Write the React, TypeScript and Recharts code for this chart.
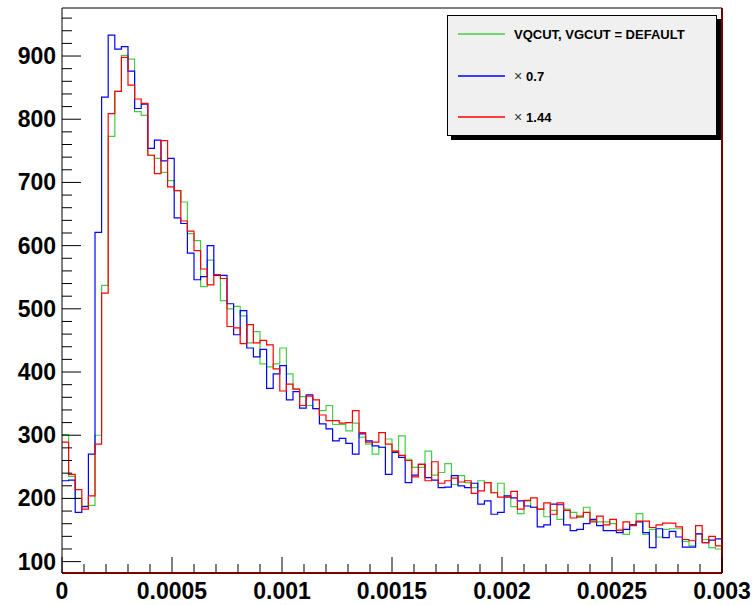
import type { CSSProperties, ReactElement } from 'react'
import { LineChart, Line, XAxis, YAxis, ReferenceLine } from 'recharts'

// histogram: 100 bins over [0, 0.003]
const BIN_WIDTH = 0.00003
const X_MAX = 0.003

// VQCUT, VGCUT = DEFAULT
const GREEN_COUNTS = [
  301, 235, 200, 188, 189, 300, 537, 773, 844, 901,
  895, 812, 806, 743, 738, 716, 703, 687, 669, 619,
  608, 535, 577, 554, 513, 500, 504, 489, 446, 464,
  413, 408, 413, 438, 397, 373, 361, 347, 342, 339,
  347, 317, 317, 307, 319, 297, 286, 270, 281, 294,
  275, 299, 262, 249, 249, 275, 237, 241, 255, 222,
  236, 225, 217, 228, 225, 209, 224, 202, 187, 176,
  196, 186, 183, 171, 181, 167, 183, 178, 170, 186,
  165, 163, 163, 160, 149, 143, 158, 176, 143, 151,
  139, 151, 152, 152, 132, 125, 144, 135, 122, 120
]

// x 0.7
const BLUE_COUNTS = [
  228, 229, 178, 187, 270, 621, 835, 933, 911, 915,
  876, 817, 824, 754, 767, 734, 738, 644, 635, 588,
  546, 551, 600, 553, 553, 508, 459, 497, 438, 424,
  436, 374, 397, 410, 356, 369, 343, 364, 342, 318,
  310, 291, 295, 287, 270, 302, 291, 283, 281, 238,
  273, 265, 225, 237, 254, 233, 229, 217, 218, 236,
  220, 217, 224, 191, 196, 175, 178, 204, 201, 196,
  188, 186, 155, 158, 191, 190, 158, 149, 151, 160,
  167, 157, 149, 149, 146, 151, 158, 163, 146, 122,
  152, 138, 148, 139, 123, 123, 144, 130, 134, 136
]

// x 1.44
const RED_COUNTS = [
  289, 238, 214, 183, 204, 286, 525, 809, 844, 898,
  854, 832, 825, 743, 714, 766, 693, 687, 639, 623,
  592, 563, 538, 554, 548, 472, 470, 445, 475, 446,
  450, 443, 405, 370, 381, 373, 347, 362, 356, 332,
  323, 323, 319, 320, 339, 304, 289, 289, 304, 286,
  275, 268, 260, 234, 254, 228, 258, 224, 228, 232,
  226, 228, 208, 212, 225, 209, 202, 202, 211, 183,
  197, 201, 183, 193, 175, 193, 181, 169, 172, 178,
  163, 172, 158, 167, 150, 163, 157, 164, 164, 154,
  158, 161, 161, 155, 135, 133, 157, 130, 140, 125
]

const X_LABELS = ['0', '0.0005', '0.001', '0.0015', '0.002', '0.0025', '0.003']
const Y_LABELS = [100, 200, 300, 400, 500, 600, 700, 800, 900]
const Y_DOMAIN: [number, number] = [82, 976]

// minor ticks every 0.0001 on x, every 20 on y
const X_TICKS = Array.from({ length: 31 }, (_, i) => Number((i * 0.0001).toFixed(4)))
const Y_TICKS = Array.from({ length: 44 }, (_, i) => 100 + i * 20)

const data = Array.from({ length: GREEN_COUNTS.length + 1 }, (_, i) => {
  const j = Math.min(i, GREEN_COUNTS.length - 1)
  return {
    x: Number((i * BIN_WIDTH).toFixed(6)),
    green: GREEN_COUNTS[j],
    blue: BLUE_COUNTS[j],
    red: RED_COUNTS[j]
  }
})

const FONT = '"Liberation Sans", Arial, Helvetica, sans-serif'
const GREEN = '#44cc44'
const FRAME_RED = '#7a0000'

function XTick(props: any): ReactElement {
  const { x, y, payload } = props
  const idx = Math.round(payload.value / 0.0001)
  const major = idx % 5 === 0
  return (
    <g>
      <line x1={x} x2={x} y1={y} y2={y - (major ? 16 : 9)} stroke="#000" strokeWidth={1} />
      {major && (
        <text x={x} y={y + 26} textAnchor="middle" fontFamily={FONT} fontWeight="bold" fontSize={23} fill="#000">
          {X_LABELS[idx / 5]}
        </text>
      )}
    </g>
  )
}

function YTick(props: any): ReactElement {
  const { x, y, payload } = props
  const major = payload.value % 100 === 0
  return (
    <g>
      <line x1={x} x2={x + (major ? 19 : 10)} y1={y} y2={y} stroke="#000" strokeWidth={1} />
      {major && Y_LABELS.includes(payload.value) && (
        <text x={x - 6} y={y + 8} textAnchor="end" fontFamily={FONT} fontWeight="bold" fontSize={23} fill="#000">
          {payload.value}
        </text>
      )}
    </g>
  )
}

const LEGEND_BOX: CSSProperties = {
  position: 'absolute',
  left: 447,
  top: 15,
  width: 268,
  height: 119,
  background: '#f0f0f0',
  border: '1px solid #000',
  boxShadow: '4px 4px 0 #000',
  fontFamily: FONT,
  fontSize: 13
}

const LEGEND_ITEMS = [
  { color: GREEN, mark: '', label: 'VQCUT, VGCUT = DEFAULT', top: 19 },
  { color: '#0000ff', mark: '\u00d7 ', label: '0.7', top: 61 },
  { color: '#ff0000', mark: '\u00d7 ', label: '1.44', top: 102 }
]

function HistLegend(): ReactElement {
  return (
    <div style={LEGEND_BOX}>
      {LEGEND_ITEMS.map((it) => (
        <div key={it.label} style={{ position: 'absolute', left: 10, top: it.top - 16, height: 30, display: 'flex', alignItems: 'center' }}>
          <svg width={47} height={4} style={{ display: 'block' }}>
            <line x1={0} x2={47} y1={2} y2={2} stroke={it.color} strokeWidth={1.5} />
          </svg>
          <span style={{ marginLeft: 9, whiteSpace: 'nowrap', color: '#000' }}>
            {it.mark && <span style={{ fontWeight: 'normal', color: '#333', fontSize: 14 }}>{it.mark}</span>}
            <span style={{ fontWeight: 'bold' }}>{it.label}</span>
          </span>
        </div>
      ))}
    </div>
  )
}

export default function App(): ReactElement {
  return (
    <div style={{ position: 'absolute', left: 0, top: 0, width: 755, height: 605, background: '#fff' }}>
      <LineChart width={755} height={605} data={data} margin={{ top: 8, right: 33, bottom: 0, left: 0 }}>
        <XAxis
          dataKey="x"
          type="number"
          domain={[0, X_MAX]}
          ticks={X_TICKS}
          interval={0}
          height={32}
          tickSize={0}
          tickMargin={0}
          tick={<XTick />}
          tickLine={false}
          axisLine={{ stroke: FRAME_RED, strokeWidth: 2 }}
          allowDataOverflow
        />
        <YAxis
          type="number"
          domain={Y_DOMAIN}
          ticks={Y_TICKS}
          interval={0}
          width={62}
          tickSize={0}
          tickMargin={0}
          tick={<YTick />}
          tickLine={false}
          axisLine={{ stroke: '#000', strokeWidth: 1 }}
          allowDataOverflow
        />
        <ReferenceLine y={Y_DOMAIN[1]} stroke="#000" strokeWidth={1} />
        <Line type="stepAfter" dataKey="green" stroke={GREEN} strokeWidth={1.2} dot={false} isAnimationActive={false} />
        <Line type="stepAfter" dataKey="blue" stroke="#0000ff" strokeWidth={1.2} dot={false} isAnimationActive={false} />
        <Line type="stepAfter" dataKey="red" stroke="#ff0000" strokeWidth={1.2} dot={false} isAnimationActive={false} />
        <ReferenceLine x={X_MAX} stroke={FRAME_RED} strokeWidth={2} />
      </LineChart>
      <HistLegend />
    </div>
  )
}
